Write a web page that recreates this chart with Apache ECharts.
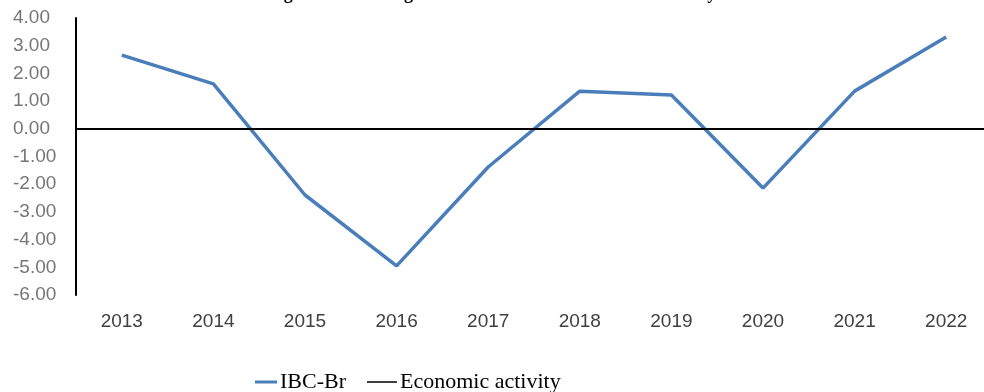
<!DOCTYPE html>
<html>
<head>
<meta charset="utf-8">
<script src="https://cdn.jsdelivr.net/npm/echarts@6/dist/echarts.min.js"></script>
<style>
html,body{margin:0;padding:0;background:#fff;}
#chart{width:984px;height:392px;}
</style>
</head>
<body>
<div id="chart"></div>
<script>
var titleText = 'Figure 1: Annual growth of IBC-Br and Economic activity';
var categories = ['2013','2014','2015','2016','2017','2018','2019','2020','2021','2022'];
var ibcBr = [2.66, 1.62, -2.39, -4.95, -1.38, 1.36, 1.22, -2.14, 1.36, 3.31];
var economicActivityLevel = [0];
var yMin = -6, yMax = 4, yStep = 1;

var chart = echarts.init(document.getElementById('chart'), null, {renderer:'canvas'});
chart.setOption({
  animation: false,
  backgroundColor: '#ffffff',
  title: {
    text: titleText,
    left: 'center',
    top: -20,
    textStyle: {fontFamily: 'Liberation Serif', fontWeight: 'bold', fontSize: 18, color: '#000'}
  },
  grid: {left: 76, width: 916, top: 18, bottom: 97, containLabel: false, outerBoundsMode: 'none'},
  legend: [
    {
      data: ['IBC-Br'], left: 250, top: 366, icon: 'rect', itemWidth: 22, itemHeight: 3, itemGap: 2,
      textStyle: {fontFamily: 'Liberation Serif', fontSize: 22, color: '#000', padding: [0,0,0,-2]}
    },
    {
      data: ['Economic activity'], left: 362, top: 366, icon: 'rect', itemWidth: 30, itemHeight: 1.5, itemGap: 2,
      textStyle: {fontFamily: 'Liberation Serif', fontSize: 22, color: '#000', padding: [0,0,0,-2]}
    }
  ],
  xAxis: {
    type: 'category',
    data: categories,
    boundaryGap: true,
    axisLine: {show: false, onZero: false},
    axisTick: {show: false},
    splitLine: {show: false},
    axisLabel: {margin: 17, color: '#404040', fontFamily: 'Liberation Sans', fontSize: 19}
  },
  yAxis: {
    type: 'value',
    min: yMin, max: yMax, interval: yStep,
    axisLine: {show: true, lineStyle: {color: '#000', width: 2}},
    axisTick: {show: false},
    splitLine: {show: false},
    axisLabel: {
      margin: 63, align: 'left', color: '#767676', fontFamily: 'Liberation Sans', fontSize: 19,
      formatter: function(v){ return v.toFixed(2); }
    }
  },
  series: [
    {
      name: 'IBC-Br', type: 'line', data: ibcBr, symbol: 'none', smooth: false,
      lineStyle: {color: '#4A7EBB', width: 3.5}, itemStyle: {color: '#4A7EBB'}, z: 3
    },
    {
      name: 'Economic activity', type: 'line', data: [], symbol: 'none',
      lineStyle: {color: '#000', width: 2}, itemStyle: {color: '#000'},
      markLine: {
        silent: true, symbol: 'none', label: {show: false},
        lineStyle: {color: '#000', width: 2, type: 'solid'},
        data: economicActivityLevel.map(function(v){ return {yAxis: v}; })
      },
      z: 2
    }
  ]
});
</script>
</body>
</html>
